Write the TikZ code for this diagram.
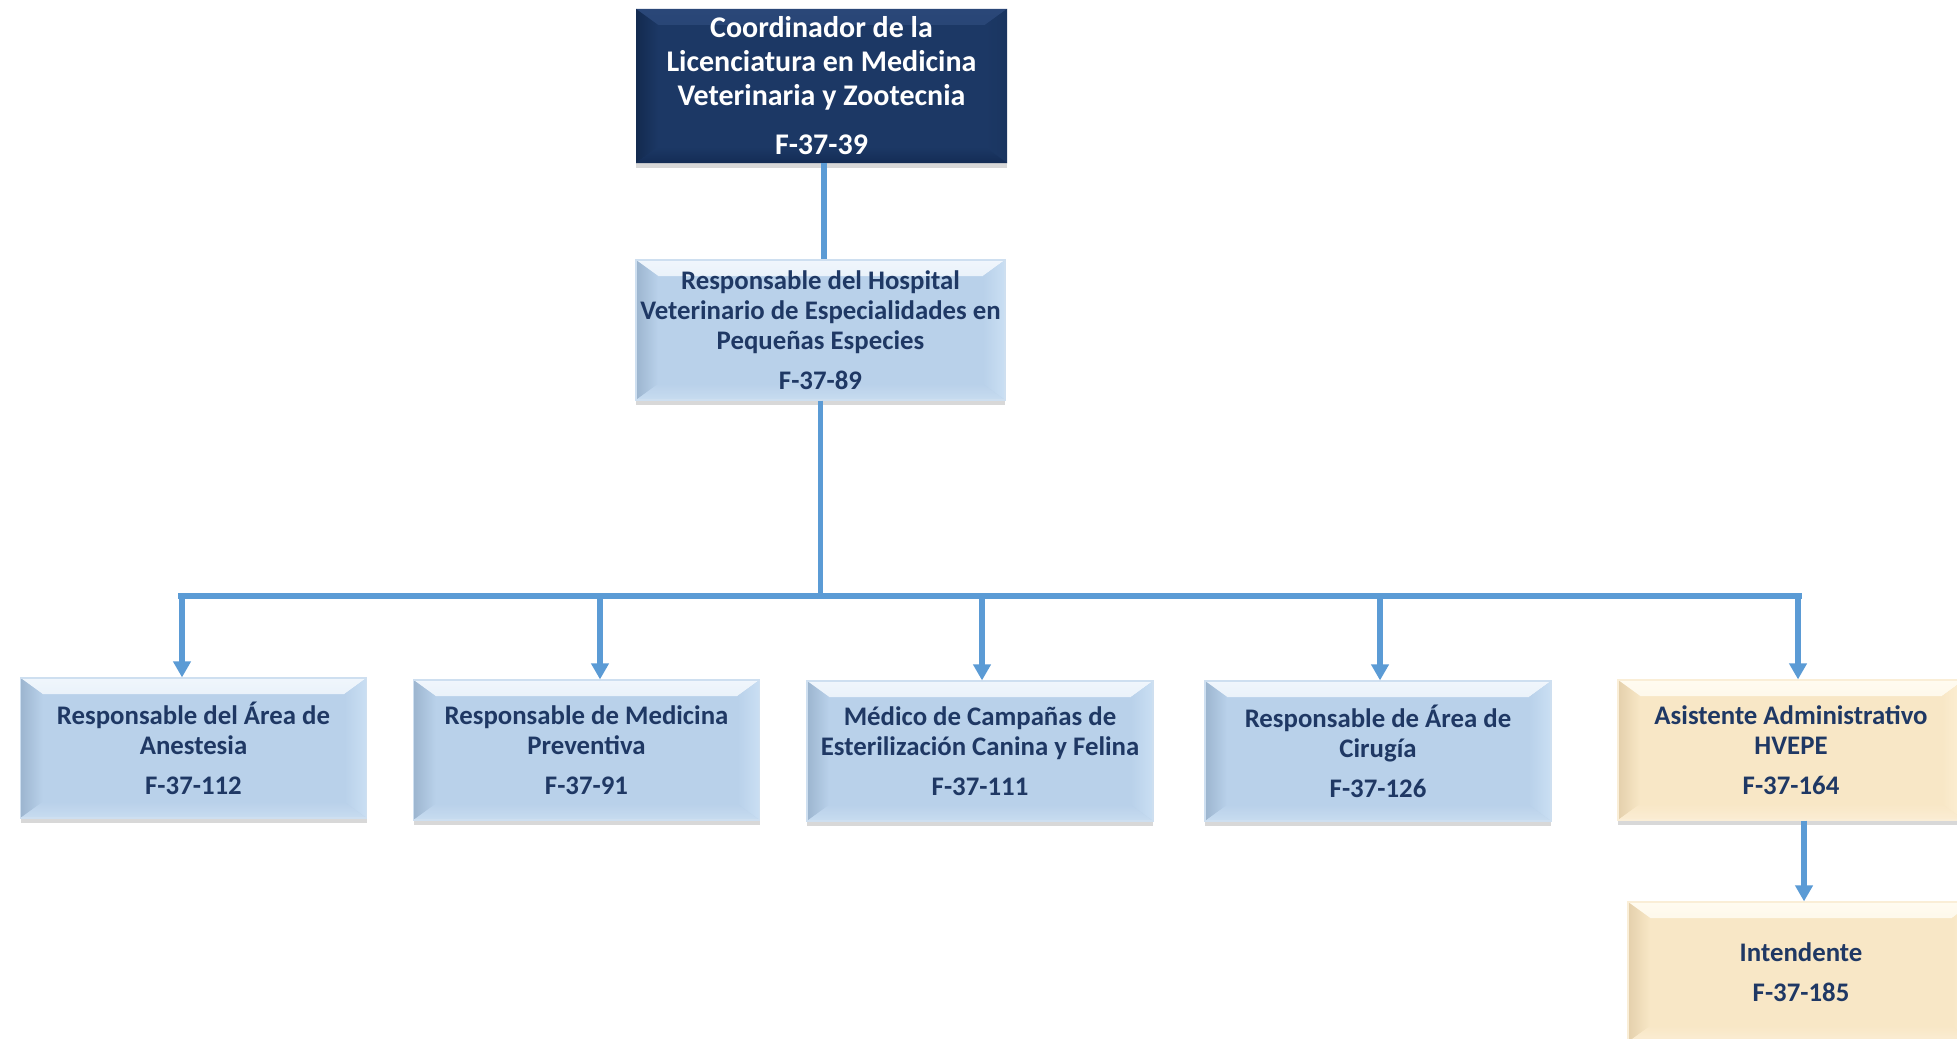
\documentclass[tikz,border=0pt]{standalone}
\usepackage{fontspec}
\setmainfont{Carlito}
\usetikzlibrary{arrows.meta,shadows}
\definecolor{connc}{HTML}{5B9BD5}
\definecolor{navytext}{HTML}{1F3864}
\definecolor{dkmain}{HTML}{1C3865}
\definecolor{dktop}{HTML}{2A4778}
\definecolor{dkleft}{HTML}{132A4F}
\definecolor{dkright}{HTML}{1A3560}
\definecolor{dkbot}{HTML}{142C55}
\definecolor{lbmain}{HTML}{B9D1EA}
\definecolor{lbtop}{HTML}{F0F6FC}
\definecolor{lbleft}{HTML}{9CB5CF}
\definecolor{lbright}{HTML}{CADFF3}
\definecolor{lbbot}{HTML}{C8DCF0}
\definecolor{tnmain}{HTML}{F8E7C6}
\definecolor{tntop}{HTML}{FFFBF0}
\definecolor{tnleft}{HTML}{E4D0AC}
\definecolor{tnright}{HTML}{FDF0D6}
\definecolor{tnbot}{HTML}{FBEDD4}
\tikzset{
  bev/.style n args={5}{fill=#1,
    path picture={
      \shade[top color=#2, bottom color=#1]
        (path picture bounding box.north west) -- (path picture bounding box.north east)
        -- ([shift={(-11pt,-8pt)}]path picture bounding box.north east)
        -- ([shift={(11pt,-8pt)}]path picture bounding box.north west) -- cycle;
      \shade[left color=#3, right color=#1]
        (path picture bounding box.north west) -- ([shift={(11pt,-8pt)}]path picture bounding box.north west)
        -- ([shift={(11pt,8pt)}]path picture bounding box.south west)
        -- (path picture bounding box.south west) -- cycle;
      \shade[left color=#1, right color=#4]
        (path picture bounding box.north east) -- (path picture bounding box.south east)
        -- ([shift={(-11pt,8pt)}]path picture bounding box.south east)
        -- ([shift={(-11pt,-8pt)}]path picture bounding box.north east) -- cycle;
      \shade[top color=#1, bottom color=#5]
        (path picture bounding box.south west) -- (path picture bounding box.south east)
        -- ([shift={(-11pt,8pt)}]path picture bounding box.south east)
        -- ([shift={(11pt,8pt)}]path picture bounding box.south west) -- cycle;
    }},
  boxbase/.style={rectangle, inner sep=0pt, align=center, font=\bfseries\fontsize{13.4}{15}\selectfont,
    drop shadow={shadow xshift=0pt, shadow yshift=-2.5pt, opacity=0.3}},
  dkbox/.style={boxbase, bev={dkmain}{dktop}{dkleft}{dkright}{dkbot}, text=white,
    font=\bfseries\fontsize{15}{17}\selectfont, minimum width=185.5pt, minimum height=77pt},
  lbbox/.style={boxbase, bev={lbmain}{lbtop}{lbleft}{lbright}{lbbot}, text=navytext,
    draw=lbmain!70!white, line width=0.6pt, minimum width=173pt, minimum height=70pt},
  tnbox/.style={boxbase, bev={tnmain}{tntop}{tnleft}{tnright}{tnbot}, text=navytext,
    draw=tnmain!70!white, line width=0.6pt, minimum width=173pt, minimum height=70pt},
  conn/.style={draw=connc, line width=2.75pt},
  arr/.style={conn, -{Triangle[width=8.5pt,length=8pt]}}
}
\begin{document}
\begin{tikzpicture}[x=0.5pt,y=-0.5pt]
\useasboundingbox (0,0) rectangle (1957,1038);
\clip (0,0) rectangle (1957,1038);
\fill[white] (0,0) rectangle (1957,1038);

\node[dkbox] (top) at (821.5,86) {Coordinador de la\\Licenciatura en Medicina\\Veterinaria y Zootecnia\\[7.5pt]F-37-39};
\node[lbbox, minimum width=184.5pt] (hosp) at (820.5,330) {Responsable del Hospital\\Veterinario de Especialidades en\\Pequeñas Especies\\[5pt]F-37-89};

\node[lbbox] (a1) at (193.5,748) {Responsable del Área de\\Anestesia\\[5pt]F-37-112};
\node[lbbox] (a2) at (586.5,750) {Responsable de Medicina\\Preventiva\\[5pt]F-37-91};
\node[lbbox] (a3) at (980,751) {Médico de Campañas de\\Esterilización Canina y Felina\\[5pt]F-37-111};
\node[lbbox] (a4) at (1378,751) {Responsable de Área de\\Cirugía\\[5pt]F-37-126};
\node[tnbox] (a5) at (1791,750) {Asistente Administrativo\\HVEPE\\[5pt]F-37-164};
\node[tnbox] (a6) at (1801,972) {Intendente\\[5pt]F-37-185};

\coordinate (busL) at (178,596);
\coordinate (busR) at (1802,596);

\draw[conn] ([xshift=1.25pt]top.south) -- ([xshift=1.25pt]top.south |- hosp.north);
\draw[conn] (hosp.south) -- (hosp.south |- busL);
\draw[conn] (busL) -- (busR);
\draw[arr] ([xshift=-5.75pt]a1.north |- busL) -- ([xshift=-5.75pt]a1.north);
\draw[arr] ([xshift=6.75pt]a2.north |- busL) -- ([xshift=6.75pt]a2.north);
\draw[arr] ([xshift=1pt]a3.north |- busL) -- ([xshift=1pt]a3.north);
\draw[arr] ([xshift=1pt]a4.north |- busL) -- ([xshift=1pt]a4.north);
\draw[arr] ([xshift=3.5pt]a5.north |- busL) -- ([xshift=3.5pt]a5.north);
\draw[arr] ([xshift=6.5pt]a5.south) -- ([xshift=6.5pt]a5.south |- a6.north);
\end{tikzpicture}
\end{document}
